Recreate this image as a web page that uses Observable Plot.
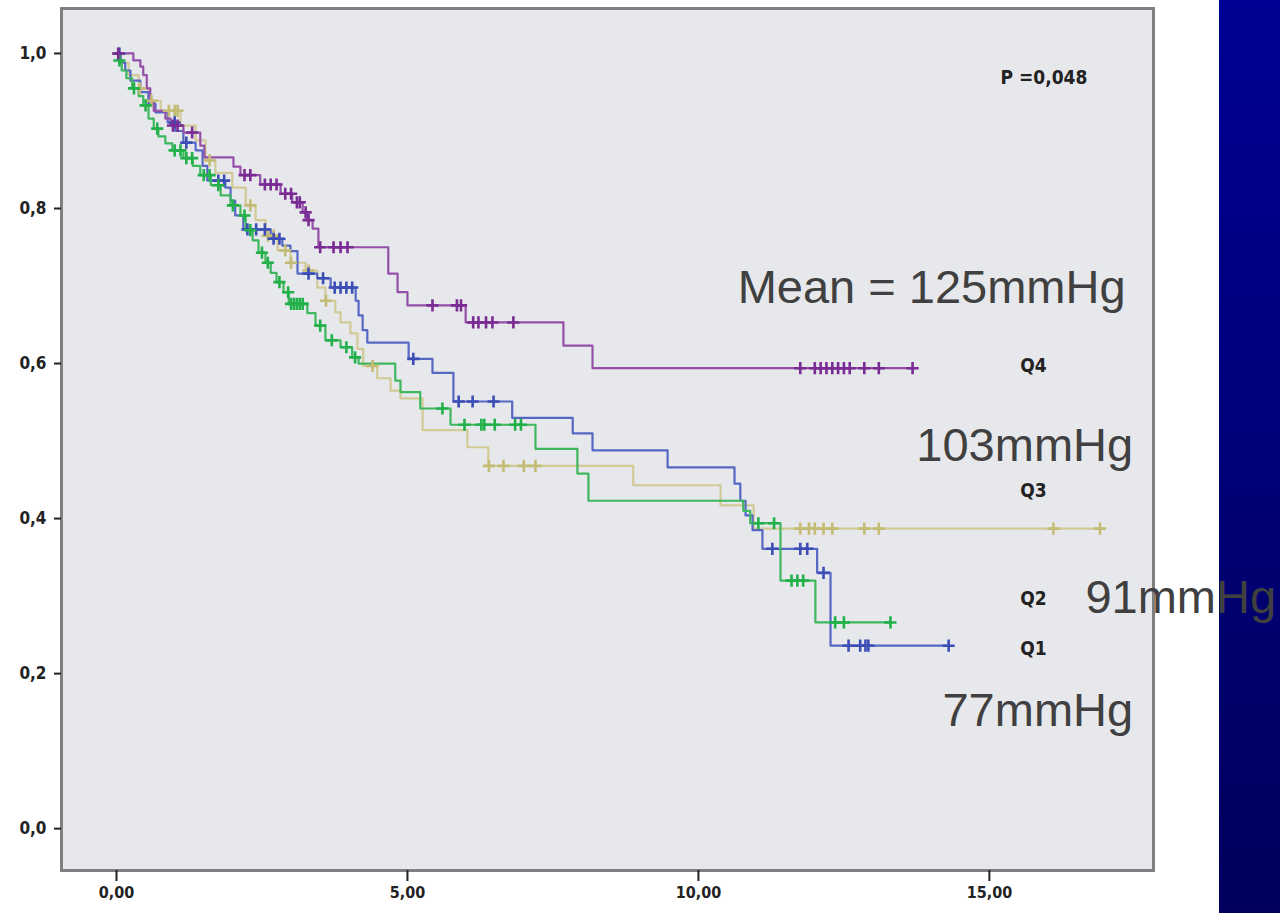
<!DOCTYPE html>
<html><head><meta charset="utf-8">
<script src="https://cdn.jsdelivr.net/npm/d3@7"></script>
<script src="https://cdn.jsdelivr.net/npm/@observablehq/plot@0.6"></script>
<style>
html,body{margin:0;padding:0;background:#fff;width:1280px;height:913px;overflow:hidden}
#wrap{position:relative;width:1280px;height:913px}
#band{position:absolute;left:1219px;top:0;width:61px;height:913px;background:linear-gradient(#000094,#00005c)}
#chart{position:absolute;left:0;top:0}
#chart svg{overflow:visible}
</style></head><body><div id="wrap"><div id="band"></div><div id="chart"></div></div>
<script>
// ---- data (time in years, survival proportion) ----
const groups = ["Q3", "Q1", "Q2", "Q4"];
const lineColors = {Q4: "#9450a8", Q3: "#d2ca96", Q2: "#3fb75e", Q1: "#5667c4"};
const markColors = {Q4: "#7a2c94", Q3: "#c4bb74", Q2: "#22b04a", Q1: "#3c4db6"};

const q4Steps = [[0,1],[.29,.991],[.41,.983],[.46,.972],[.52,.955],[.58,.939],[.64,.926],[.84,.916],[.93,.907],[1.15,.898],[1.44,.881],[1.51,.866],[2.01,.854],[2.13,.843],[2.47,.831],[2.82,.819],[3.02,.808],[3.20,.795],[3.28,.785],[3.37,.774],[3.47,.750],[4.67,.716],[4.83,.692],[5.00,.675],[6.00,.653],[7.68,.623],[8.18,.594],[13.68,.594]];
const q1Steps = [[0,1],[.07,.988],[.15,.978],[.24,.965],[.41,.95],[.55,.935],[.67,.924],[.88,.911],[1.01,.90],[1.15,.885],[1.36,.875],[1.48,.855],[1.56,.836],[1.87,.827],[1.96,.81],[2.04,.791],[2.18,.773],[2.65,.761],[2.85,.752],[2.99,.745],[3.11,.716],[3.45,.71],[3.68,.698],[4.11,.681],[4.16,.662],[4.23,.643],[4.31,.627],[5.02,.606],[5.43,.588],[5.79,.551],[6.80,.53],[7.84,.51],[8.18,.488],[9.47,.466],[10.62,.445],[10.72,.423],[10.81,.404],[10.93,.385],[11.10,.361],[12.04,.33],[12.27,.236],[14.3,.236]];
const q2Steps = [[0,1],[.03,.991],[.09,.978],[.17,.968],[.27,.955],[.38,.945],[.46,.933],[.55,.916],[.64,.903],[.72,.893],[.84,.884],[.96,.875],[1.15,.865],[1.31,.855],[1.44,.843],[1.62,.83],[1.79,.817],[1.96,.804],[2.13,.791],[2.22,.772],[2.34,.759],[2.44,.743],[2.56,.73],[2.65,.717],[2.75,.705],[2.87,.692],[2.96,.677],[3.28,.665],[3.42,.649],[3.59,.63],[3.85,.621],[4.05,.608],[4.16,.60],[4.79,.578],[4.88,.563],[5.22,.542],[5.74,.521],[7.20,.49],[7.92,.458],[8.11,.423],[10.77,.41],[10.89,.394],[11.41,.32],[12.01,.266],[13.3,.266]];
const q3Steps = [[0,1],[.07,.988],[.21,.972],[.38,.955],[.55,.939],[.76,.926],[1.10,.907],[1.36,.888],[1.53,.862],[1.70,.846],[1.99,.827],[2.22,.804],[2.39,.785],[2.56,.765],[2.77,.746],[2.99,.73],[3.25,.72],[3.45,.698],[3.59,.681],[3.76,.666],[3.85,.653],[4.02,.639],[4.14,.619],[4.24,.597],[4.48,.581],[4.71,.565],[4.88,.555],[5.26,.514],[6.03,.492],[6.39,.468],[8.88,.443],[10.38,.417],[10.95,.387],[16.9,.387]];

const q4Censor = [0.03,0.97,1.05,1.3,2.2,2.3,2.55,2.65,2.75,2.9,3.0,3.1,3.15,3.25,3.3,3.5,3.73,3.85,3.97,5.43,5.85,5.92,6.13,6.22,6.35,6.46,6.82,11.75,12.0,12.1,12.2,12.3,12.4,12.5,12.6,12.85,13.1,13.68];
const q1Censor = [0.05,1.0,1.2,1.75,1.85,2.25,2.4,2.55,2.7,2.8,3.3,3.55,3.75,3.85,3.95,4.05,5.1,5.88,6.12,6.48,11.27,11.75,11.87,12.15,12.58,12.78,12.87,12.92,14.3];
const q2Censor = [0.05,0.3,0.5,0.7,1.0,1.1,1.2,1.3,1.5,1.6,1.75,2.0,2.2,2.3,2.5,2.6,2.8,2.95,3.0,3.05,3.1,3.15,3.2,3.5,3.7,3.95,4.1,5.6,5.98,6.27,6.32,6.5,6.85,6.95,11.03,11.3,11.6,11.7,11.8,12.35,12.5,13.3];
const q3Censor = [0.03,0.4,0.6,0.9,1.0,1.05,1.6,2.3,2.6,2.7,2.9,3.0,3.3,3.6,4.4,6.4,6.65,7.0,7.2,11.75,11.9,12.0,12.15,12.3,12.85,13.1,16.1,16.9];

const yTicks = [0, 0.2, 0.4, 0.6, 0.8, 1.0];
const xTicks = [0, 5, 10, 15];

// annotations (data coordinates)
const pLabel = {text: "P =0,048", t: 15.19, s: 0.968};
const qLabels = [{text:"Q4", t:15.53, s:0.597},{text:"Q3", t:15.53, s:0.436},{text:"Q2", t:15.53, s:0.297},{text:"Q1", t:15.53, s:0.232}];
const meanLabelsEnd = [{text:"Mean = 125mmHg", t:17.34, s:0.697},{text:"103mmHg", t:17.47, s:0.494},{text:"77mmHg", t:17.47, s:0.152}];
const meanLabelsStart = [{text:"91mmHg", t:16.65, s:0.298}];

// ---- build tables ----
const stepsBy = {Q4: q4Steps, Q1: q1Steps, Q2: q2Steps, Q3: q3Steps};
const censorBy = {Q4: q4Censor, Q1: q1Censor, Q2: q2Censor, Q3: q3Censor};
function survAt(steps, t) {
  let s = steps[0][1];
  for (const [ti, si] of steps) { if (ti <= t) s = si; else break; }
  return s;
}
const marks = [Plot.frame({fill: "#e6e8eb"})];
for (const g of groups) {
  const pts = stepsBy[g].map(([t, s]) => ({t, s}));
  marks.push(Plot.line(pts, {x: "t", y: "s", curve: "step-after", stroke: lineColors[g], strokeWidth: 2.2}));
}
for (const g of groups) {
  const cs = censorBy[g].map(t => ({t, s: survAt(stepsBy[g], t)}));
  marks.push(Plot.dot(cs, {x: "t", y: "s", symbol: "plus", r: 4, stroke: markColors[g], strokeWidth: 2.6}));
}
const fmtY = d => d3.format(".1f")(d).replace(".", ",");
const fmtX = d => d3.format(".2f")(d).replace(".", ",");
const tickFont = "'DejaVu Sans Condensed','Liberation Sans Narrow',sans-serif";
marks.push(
  Plot.frame({stroke: "#7f7f7f", strokeWidth: 3}),
  Plot.axisY({ticks: yTicks, tickFormat: fmtY, label: null, tickSize: 7, tickPadding: 8, fontSize: 17, fontWeight: "bold", fontFamily: tickFont, color: "#222", strokeWidth: 2}),
  Plot.axisX({ticks: xTicks, tickFormat: fmtX, label: null, tickSize: 11, tickPadding: 5, fontSize: 16, fontWeight: "bold", fontFamily: tickFont, color: "#222", strokeWidth: 2}),
  Plot.text([pLabel], {x: "t", y: "s", text: "text", textAnchor: "start", fontSize: 19, fontWeight: "bold", fontFamily: tickFont, fill: "#222"}),
  Plot.text(qLabels, {x: "t", y: "s", text: "text", textAnchor: "start", fontSize: 19, fontWeight: "bold", fontFamily: tickFont, fill: "#222"}),
  Plot.text(meanLabelsEnd, {x: "t", y: "s", text: "text", textAnchor: "end", fontSize: 47, fontFamily: "'Liberation Sans',Arial,sans-serif", fill: "#404040", clip: false}),
  Plot.text(meanLabelsStart, {x: "t", y: "s", text: "text", textAnchor: "start", fontSize: 47, fontFamily: "'Liberation Sans',Arial,sans-serif", fill: "#404040", clip: false})
);

const chart = Plot.plot({
  width: 1280, height: 913,
  marginLeft: 61, marginRight: 127, marginTop: 8, marginBottom: 43,
  x: {domain: [-0.945, 17.82], label: null},
  y: {domain: [-0.054, 1.058], label: null},
  style: {background: "transparent", overflow: "visible"},
  marks
});
document.getElementById("chart").appendChild(chart);
</script></body></html>
